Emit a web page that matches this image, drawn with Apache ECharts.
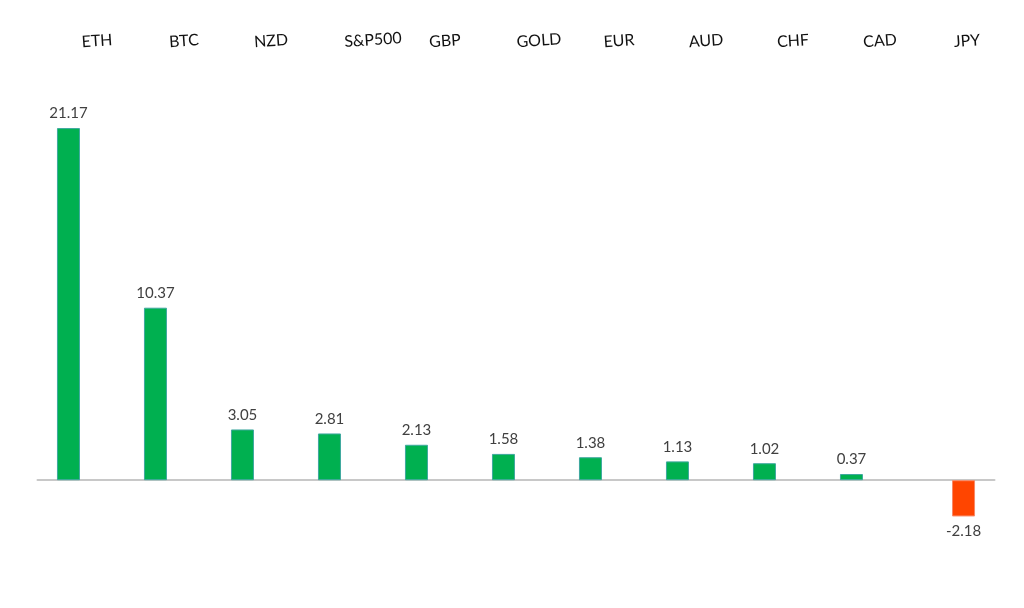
<!DOCTYPE html>
<html>
<head>
<meta charset="utf-8">
<script src="https://cdn.jsdelivr.net/npm/echarts@6/dist/echarts.min.js"></script>
<style>
html,body{margin:0;padding:0;background:#fff;}
#chart{width:1024px;height:608px;}
</style>
</head>
<body>
<div id="chart"></div>
<script>
// ---- data ----
var categories = ['ETH','BTC','NZD','S&P500','GBP','GOLD','EUR','AUD','CHF','CAD','JPY'];
var changes = [21.17, 10.37, 3.05, 2.81, 2.13, 1.58, 1.38, 1.13, 1.02, 0.37, -2.18];

// ---- build ----
var gains = changes.map(function(v){ return v >= 0 ? v : null; });
var losses = changes.map(function(v){ return v < 0 ? v : null; });
var spacer = {'S&P500': 'g30', 'GOLD': 'g14'};

var chart = echarts.init(document.getElementById('chart'), null, {renderer:'canvas'});
chart.setOption({
  animation: false,
  backgroundColor: '#ffffff',
  grid: [
    {left: 37.5, width: 957, top: 81, bottom: 28},
    {left: 53.5, width: 957, top: 81, bottom: 28}
  ],
  xAxis: [{
    type: 'category',
    gridIndex: 0,
    data: categories,
    position: 'bottom',
    axisLine: {show: true, onZero: true, lineStyle: {color: '#c8c8c8', width: 2}},
    axisTick: {show: false},
    axisLabel: {show: false},
    splitLine: {show: false}
  }, {
    type: 'category',
    gridIndex: 1,
    data: categories,
    position: 'top',
    axisLine: {show: false},
    axisTick: {show: false},
    axisLabel: {
      show: true, interval: 0, rotate: 4, margin: 40,
      align: 'center', verticalAlign: 'middle',
      fontFamily: 'Lato', fontSize: 16, color: '#111111',
      formatter: function(v){
        var g = v === 'JPY' ? null : spacer[v];
        return g ? '{' + g + '|}{n|' + v + '}' : '{n|' + v + '}';
      },
      rich: {
        n: {fontFamily: 'Lato', fontSize: 16, color: '#111111'},
        g30: {width: 30},
        g14: {width: 14}
      }
    }
  }],
  yAxis: [{
    type: 'value', gridIndex: 0, min: -6, max: 24, show: false,
    splitLine: {show: false}
  }, {
    type: 'value', gridIndex: 1, min: -6, max: 24, show: false,
    splitLine: {show: false}
  }],
  series: [{
    type: 'bar',
    data: gains,
    barWidth: 23,
    barGap: '9%',
    itemStyle: {color: '#00b050', borderColor: '#3ea89e', borderWidth: 1},
    label: {
      show: true, position: 'top', distance: 7,
      fontFamily: 'Lato', fontSize: 15, color: '#404040',
      formatter: function(p){ return p.value.toFixed(2); }
    }
  }, {
    type: 'bar',
    data: losses,
    barWidth: 23,
    itemStyle: {color: '#ff4500', borderColor: '#f88a68', borderWidth: 1},
    label: {
      show: true, position: 'bottom', distance: 7,
      fontFamily: 'Lato', fontSize: 15, color: '#404040',
      formatter: function(p){ return p.value.toFixed(2); }
    }
  }]
});
</script>
</body>
</html>
